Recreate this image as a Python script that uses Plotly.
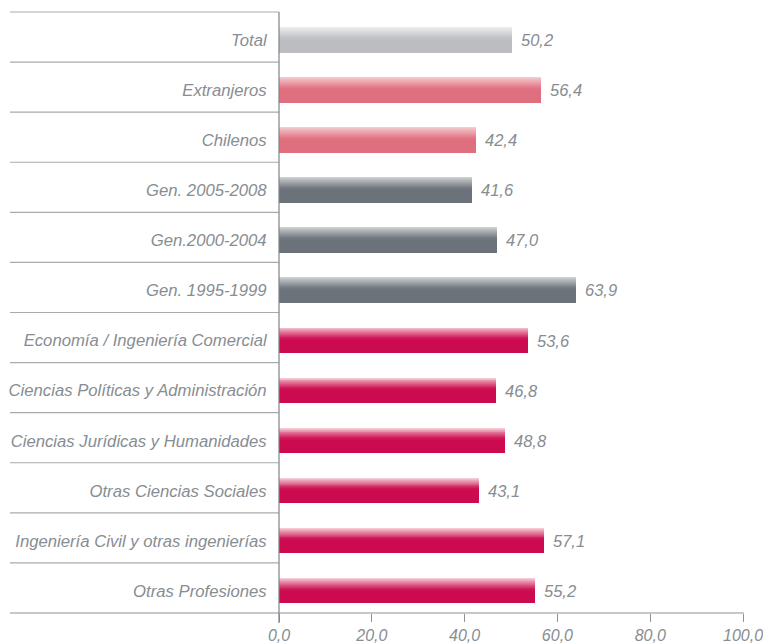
import plotly.graph_objects as go

categories = [
    "Total", "Extranjeros", "Chilenos", "Gen. 2005-2008", "Gen.2000-2004",
    "Gen. 1995-1999", "Economía / Ingeniería Comercial",
    "Ciencias Políticas y Administración", "Ciencias Jurídicas y Humanidades",
    "Otras Ciencias Sociales", "Ingeniería Civil y otras ingenierías",
    "Otras Profesiones",
]
values = [50.2, 56.4, 42.4, 41.6, 47.0, 63.9, 53.6, 46.8, 48.8, 43.1, 57.1, 55.2]
groups = ["total", "origen", "origen", "gen", "gen", "gen",
          "carrera", "carrera", "carrera", "carrera", "carrera", "carrera"]
x_ticks = [0, 20, 40, 60, 80, 100]

base_colors = {"total": (188, 189, 193), "origen": (223, 111, 126),
               "gen": (107, 114, 121), "carrera": (204, 10, 79)}
top_colors = {"total": (240, 240, 241), "origen": (246, 208, 213),
              "gen": (212, 215, 217), "carrera": (247, 214, 219)}

TEXT = "#878d92"
FONT = "Liberation Sans"
BAR_W = 0.5
N_STRIPS = 12
GRAD_FRAC = 0.46


def rgb(c):
    return "rgb(%d,%d,%d)" % c


def mix(a, b, t):
    return tuple(round(a[i] + (b[i] - a[i]) * t) for i in range(3))


fig = go.Figure()
fig.add_trace(go.Bar(
    x=values, y=categories, orientation="h", width=BAR_W,
    marker=dict(color=[rgb(base_colors[g]) for g in groups], line=dict(width=0)),
    hoverinfo="skip", showlegend=False,
))
h = BAR_W * GRAD_FRAC / N_STRIPS
for k in range(N_STRIPS):
    t = (k + 0.5) / N_STRIPS
    t = t ** 0.9
    cols = [rgb(mix(top_colors[g], base_colors[g], t)) for g in groups]
    fig.add_trace(go.Bar(
        x=values, y=categories, orientation="h",
        width=h * 1.05, offset=-BAR_W / 2 + k * h,
        marker=dict(color=cols, line=dict(width=0)),
        hoverinfo="skip", showlegend=False,
    ))

for c, v in zip(categories, values):
    fig.add_annotation(
        x=v, y=c, xref="x", yref="y", text=("%.1f" % v).replace(".", ","),
        showarrow=False, xanchor="left", xshift=7, yshift=0,
        font=dict(family=FONT, size=16.5, color=TEXT, style="italic"),
    )

n = len(categories)
left = (10 - 279) / 464
shapes = []
for k in range(n):
    shapes.append(dict(type="line", xref="paper", yref="paper",
                       x0=left, x1=0, y0=1 - k / n, y1=1 - k / n,
                       line=dict(color="#a7abaf", width=1.2)))
shapes.append(dict(type="line", xref="paper", yref="paper",
                   x0=left, x1=1.002, y0=0, y1=0,
                   line=dict(color="#8d9398", width=1.2)))
shapes.append(dict(type="line", xref="paper", yref="paper",
                   x0=0, x1=0, y0=1, y1=-10 / 601,
                   line=dict(color="#7d848a", width=1.2)))

d = -0.06
fig.update_layout(
    width=763, height=644,
    margin=dict(l=279, r=20, t=12, b=31, autoexpand=False),
    paper_bgcolor="white", plot_bgcolor="white",
    barmode="overlay", bargap=0,
    separators=",.",
    shapes=shapes,
    xaxis=dict(range=[0, 100], tickvals=x_ticks, tickformat=".1f",
               showgrid=False, zeroline=False, showline=False,
               ticks="outside", ticklen=8, tickwidth=1.2, tickcolor="#8d9398",
               ticklabeloverflow="allow",
               tickfont=dict(family=FONT, size=16, color=TEXT, style="italic")),
    yaxis=dict(categoryorder="array", categoryarray=categories,
               range=[n - 0.5 + d, -0.5 + d],
               showgrid=False, zeroline=False, showline=False,
               ticks="outside", ticklen=8, tickcolor="rgba(0,0,0,0)",
               tickfont=dict(family=FONT, size=16.7, color=TEXT, style="italic")),
)

fig.write_html("out.html", config={"displayModeBar": False},
               post_script="document.body.style.margin='0';"
                           "document.body.style.overflow='hidden';")
